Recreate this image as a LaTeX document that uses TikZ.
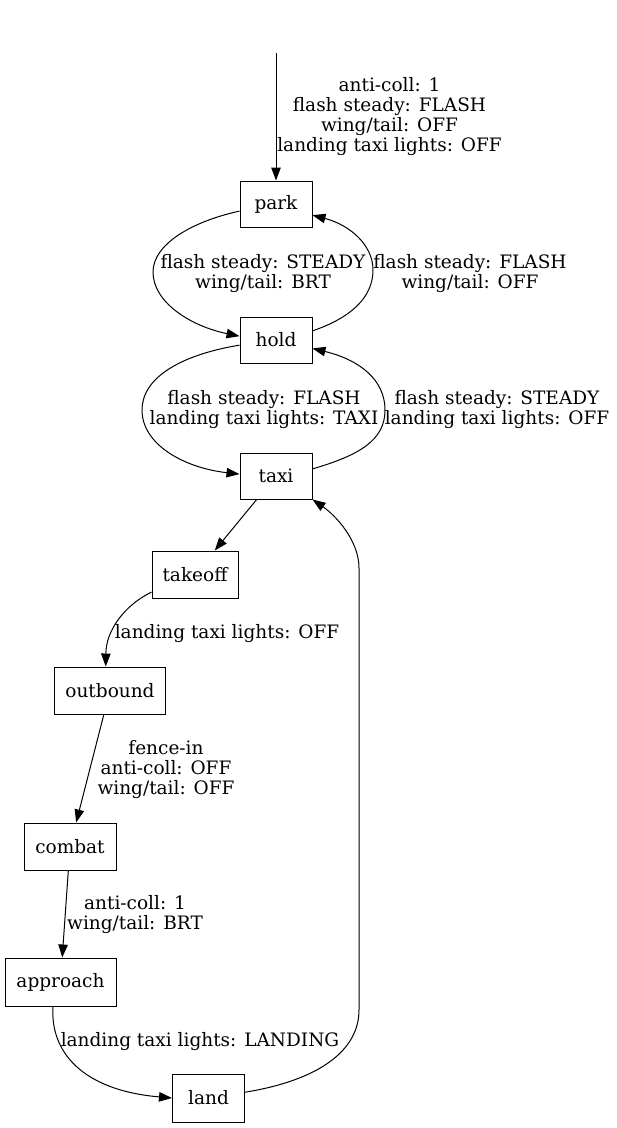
\documentclass[tikz,border=0pt]{standalone}
\usepackage{fontspec}
\setmainfont{DejaVu Serif}
\usetikzlibrary{arrows.meta}
\tikzset{
  state/.style={draw, line width=1pt, inner sep=0pt, minimum height=46pt, font=\fontsize{18.5}{20}\selectfont},
  lbl/.style={align=center, inner sep=0pt, font=\fontsize{18.5}{20}\selectfont},
  edge/.style={line width=1pt, -{Triangle[length=13pt,width=9.5pt]}},
}
\begin{document}
\begin{tikzpicture}[x=1pt,y=-1pt]
\useasboundingbox (0,0) rectangle (617,1128);
\node[state, minimum width=72pt] (park) at (276,204) {park};
\node[state, minimum width=72pt] (hold) at (276,340) {hold};
\node[state, minimum width=72pt] (taxi) at (276,476) {taxi};
\node[state, minimum width=86pt, minimum height=47pt] (takeoff) at (195,574.5) {takeoff};
\node[state, minimum width=111pt, minimum height=47pt] (outbound) at (110,690.5) {outbound};
\node[state, minimum width=92pt, minimum height=47pt] (combat) at (70,846.5) {combat};
\node[state, minimum width=111pt, minimum height=48pt] (approach) at (60.5,982) {approach};
\node[state, minimum width=72pt, minimum height=48pt] (land) at (208.5,1098) {land};
\coordinate (start) at (276,53);

\draw[edge] (start) -- (park);
\draw[edge] (park.191) .. controls (190,222) and (153,245) .. (153,272) .. controls (153,302) and (190,326) .. (hold.174);
\draw[edge] (hold.14) .. controls (350,318) and (373,298) .. (373,270) .. controls (373,245) and (350,225) .. (park.343);
\draw[edge] (hold.188) .. controls (180,355) and (142,378) .. (142,410) .. controls (142,445) and (185,468) .. (taxi.177);
\draw[edge] (taxi.11) .. controls (360,455) and (385,440) .. (385,410) .. controls (385,380) and (360,360) .. (hold.347);
\draw[edge] (taxi) -- (takeoff);
\draw[edge] (takeoff.202) .. controls (125,605) and (106,630) .. (outbound.100);
\draw[edge] (outbound) -- (combat);
\draw[edge] (combat) -- (approach);
\draw[edge] (approach.253) .. controls (50,1050) and (80,1090) .. (land.west);
\draw[edge] (land.9) .. controls (320,1080) and (359,1050) .. (359,1010) -- (359,568) .. controls (359,540) and (335,515) .. (taxi.south east);

\node[lbl] (l0) at (389.5,117) {anti-coll: 1\\flash steady: FLASH\\wing/tail: OFF\\landing taxi lights: OFF};
\node[lbl] (l1) at (263,274) {flash steady: STEADY\\wing/tail: BRT};
\node[lbl] (l2) at (470,274) {flash steady: FLASH\\wing/tail: OFF};
\node[lbl] (l3) at (264,410) {flash steady: FLASH\\landing taxi lights: TAXI};
\node[lbl] (l4) at (497,410) {flash steady: STEADY\\landing taxi lights: OFF};
\node[lbl] (l5) at (227,634) {landing taxi lights: OFF};
\node[lbl] (l6) at (166,770) {fence-in\\anti-coll: OFF\\wing/tail: OFF};
\node[lbl] (l7) at (135,915) {anti-coll: 1\\wing/tail: BRT};
\node[lbl] (l8) at (200,1042) {landing taxi lights: LANDING};
\end{tikzpicture}
\end{document}
